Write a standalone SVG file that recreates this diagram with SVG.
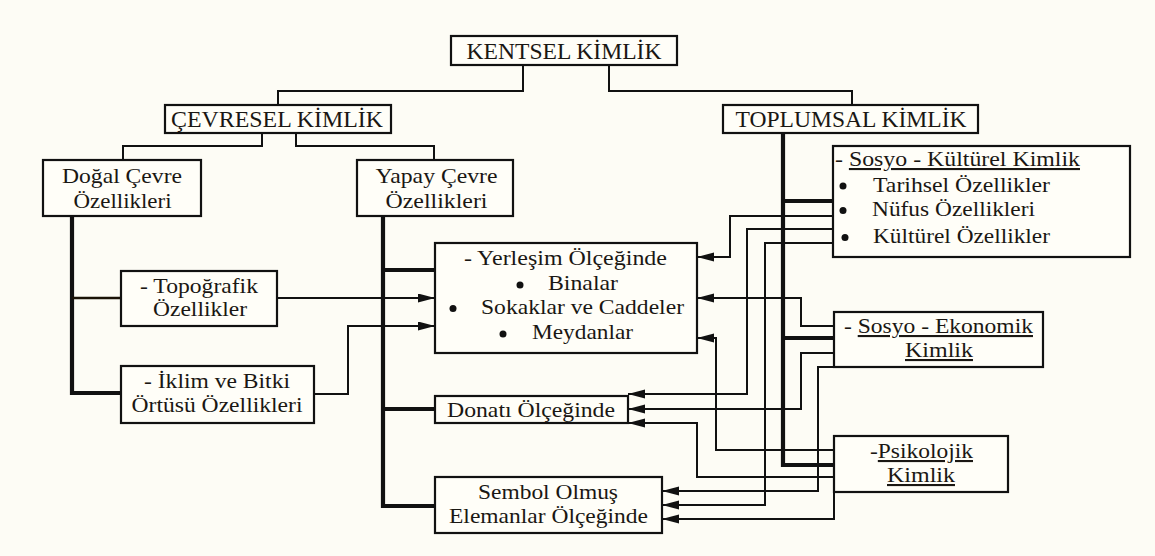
<svg xmlns="http://www.w3.org/2000/svg" width="1155" height="556" viewBox="0 0 1155 556" font-family="'Liberation Serif', 'DejaVu Serif', serif">
<defs>
<style>
.bx{fill:#fffef8;stroke:#111;stroke-width:2.2}
text{font-family:'Liberation Serif','DejaVu Serif',serif;font-size:21px;fill:#1a1713}
.h{font-size:23px}
.m{text-anchor:middle}
.c{fill:none;stroke:#111;stroke-width:2}
.k{fill:none;stroke:#111;stroke-width:4.2}
.a{marker-end:url(#ar)}
.u{text-decoration:underline}
</style>
<marker id="ar" markerUnits="userSpaceOnUse" markerWidth="18" markerHeight="10" refX="17" refY="4.5" orient="auto">
<path d="M0,0 L17,4.5 L0,9 Z" fill="#111"/>
</marker>
</defs>
<rect width="1155" height="556" fill="#fdfcf5"/>

<g id="connectors">
<path class="c" d="M523,64 V91 H278 V105"/>
<path class="c" d="M609,64 V91 H852 V105"/>
<path class="c" d="M262,133 V146 H123 V160"/>
<path class="c" d="M296,133 V146 H434 V160"/>
<path class="k" d="M72,216 V393 H121"/>
<path fill="none" stroke="#1a1206" stroke-width="2.6" d="M72,298 H121"/>
<path class="k" d="M383,216 V506 H435 M383,270 H435 M383,409 H435"/>
<path class="k" d="M783,133 V465 H834 M783,201 H834 M783,338 H834"/>
<path class="c a" d="M277,298 H435"/>
<path class="c a" d="M314,394 H348 V326 H435"/>
<path class="c a" d="M834,216 H730 V257 H697"/>
<path class="c a" d="M834,229 H747 V394 H628"/>
<path class="c a" d="M834,243 H765 V505 H662"/>
<path class="c a" d="M834,326 H801 V298 H697"/>
<path class="c a" d="M834,353 H801 V409 H628"/>
<path class="c a" d="M834,367 H818 V491 H662"/>
<path class="c a" d="M834,450 H716 V338 H697"/>
<path class="c a" d="M834,477 H697 V423 H628"/>
<path class="c a" d="M834,492 V519 H662"/>
</g>

<g id="kentsel">
<rect class="bx" x="451" y="36" width="226" height="29"/>
<text class="h m" x="564" y="58.5" textLength="195" lengthAdjust="spacingAndGlyphs">KENTSEL KİMLİK</text>
</g>
<g id="cevresel">
<rect class="bx" x="165" y="105" width="226" height="28"/>
<text class="h m" x="277" y="127" textLength="212" lengthAdjust="spacingAndGlyphs">ÇEVRESEL KİMLİK</text>
</g>
<g id="toplumsal">
<rect class="bx" x="723" y="105" width="255" height="28"/>
<text class="h m" x="851" y="127" textLength="231" lengthAdjust="spacingAndGlyphs">TOPLUMSAL KİMLİK</text>
</g>
<g id="dogal">
<rect class="bx" x="43" y="160" width="158" height="56"/>
<text class="m" x="122" y="183" textLength="120" lengthAdjust="spacingAndGlyphs">Doğal Çevre</text>
<text class="m" x="122.5" y="208" textLength="98" lengthAdjust="spacingAndGlyphs">Özellikleri</text>
</g>
<g id="yapay">
<rect class="bx" x="357" y="160" width="156" height="56"/>
<text class="m" x="436.5" y="183" textLength="122" lengthAdjust="spacingAndGlyphs">Yapay Çevre</text>
<text class="m" x="436.5" y="208" textLength="102" lengthAdjust="spacingAndGlyphs">Özellikleri</text>
</g>
<g id="topografik">
<rect class="bx" x="121" y="271" width="156" height="55"/>
<text class="m" x="199" y="293" textLength="118" lengthAdjust="spacingAndGlyphs">- Topoğrafik</text>
<text class="m" x="200" y="316" textLength="94" lengthAdjust="spacingAndGlyphs">Özellikler</text>
</g>
<g id="iklim">
<rect class="bx" x="121" y="366" width="193" height="57"/>
<text class="m" x="217" y="388" textLength="146" lengthAdjust="spacingAndGlyphs">- İklim ve Bitki</text>
<text class="m" x="217" y="412" textLength="171" lengthAdjust="spacingAndGlyphs">Örtüsü Özellikleri</text>
</g>
<g id="yerlesim">
<rect class="bx" x="435" y="243" width="262" height="110"/>
<text class="m" x="565.5" y="265" textLength="203" lengthAdjust="spacingAndGlyphs">- Yerleşim Ölçeğinde</text>
<circle cx="520" cy="285" r="3.5" fill="#111"/>
<text x="548" y="290" textLength="70" lengthAdjust="spacingAndGlyphs">Binalar</text>
<circle cx="453" cy="308.5" r="3.5" fill="#111"/>
<text x="481" y="314" textLength="203" lengthAdjust="spacingAndGlyphs">Sokaklar ve Caddeler</text>
<circle cx="503" cy="334" r="3.5" fill="#111"/>
<text x="532" y="339" textLength="101" lengthAdjust="spacingAndGlyphs">Meydanlar</text>
</g>
<g id="donati">
<rect class="bx" x="435" y="396" width="193" height="27"/>
<text class="m" x="531" y="416.5" textLength="168" lengthAdjust="spacingAndGlyphs">Donatı Ölçeğinde</text>
</g>
<g id="sembol">
<rect class="bx" x="435" y="477" width="227" height="56"/>
<text class="m" x="548" y="499" textLength="140" lengthAdjust="spacingAndGlyphs">Sembol Olmuş</text>
<text class="m" x="548.5" y="523" textLength="199" lengthAdjust="spacingAndGlyphs">Elemanlar Ölçeğinde</text>
</g>
<g id="sosyokulturel">
<rect class="bx" x="833" y="146" width="297" height="111"/>
<text x="835" y="166" textLength="245" lengthAdjust="spacingAndGlyphs">- <tspan class="u">Sosyo - Kültürel Kimlik</tspan></text>
<circle cx="843" cy="186" r="3.5" fill="#111"/>
<text x="873" y="191.5" textLength="177" lengthAdjust="spacingAndGlyphs">Tarihsel Özellikler</text>
<circle cx="843" cy="210.5" r="3.5" fill="#111"/>
<text x="872" y="216" textLength="163" lengthAdjust="spacingAndGlyphs">Nüfus Özellikleri</text>
<circle cx="845" cy="237.5" r="3.5" fill="#111"/>
<text x="873" y="243" textLength="177" lengthAdjust="spacingAndGlyphs">Kültürel Özellikler</text>
</g>
<g id="sosyoekonomik">
<rect class="bx" x="834" y="312" width="209" height="55"/>
<text class="m" x="938.5" y="333" textLength="189" lengthAdjust="spacingAndGlyphs">- <tspan class="u">Sosyo - Ekonomik</tspan></text>
<text class="m u" x="939" y="357" textLength="68" lengthAdjust="spacingAndGlyphs">Kimlik</text>
</g>
<g id="psikolojik">
<rect class="bx" x="834" y="436" width="174" height="56"/>
<text class="m" x="921.5" y="458" textLength="103" lengthAdjust="spacingAndGlyphs">-<tspan class="u">Psikolojik</tspan></text>
<text class="m u" x="921" y="482" textLength="68" lengthAdjust="spacingAndGlyphs">Kimlik</text>
</g>
</svg>
